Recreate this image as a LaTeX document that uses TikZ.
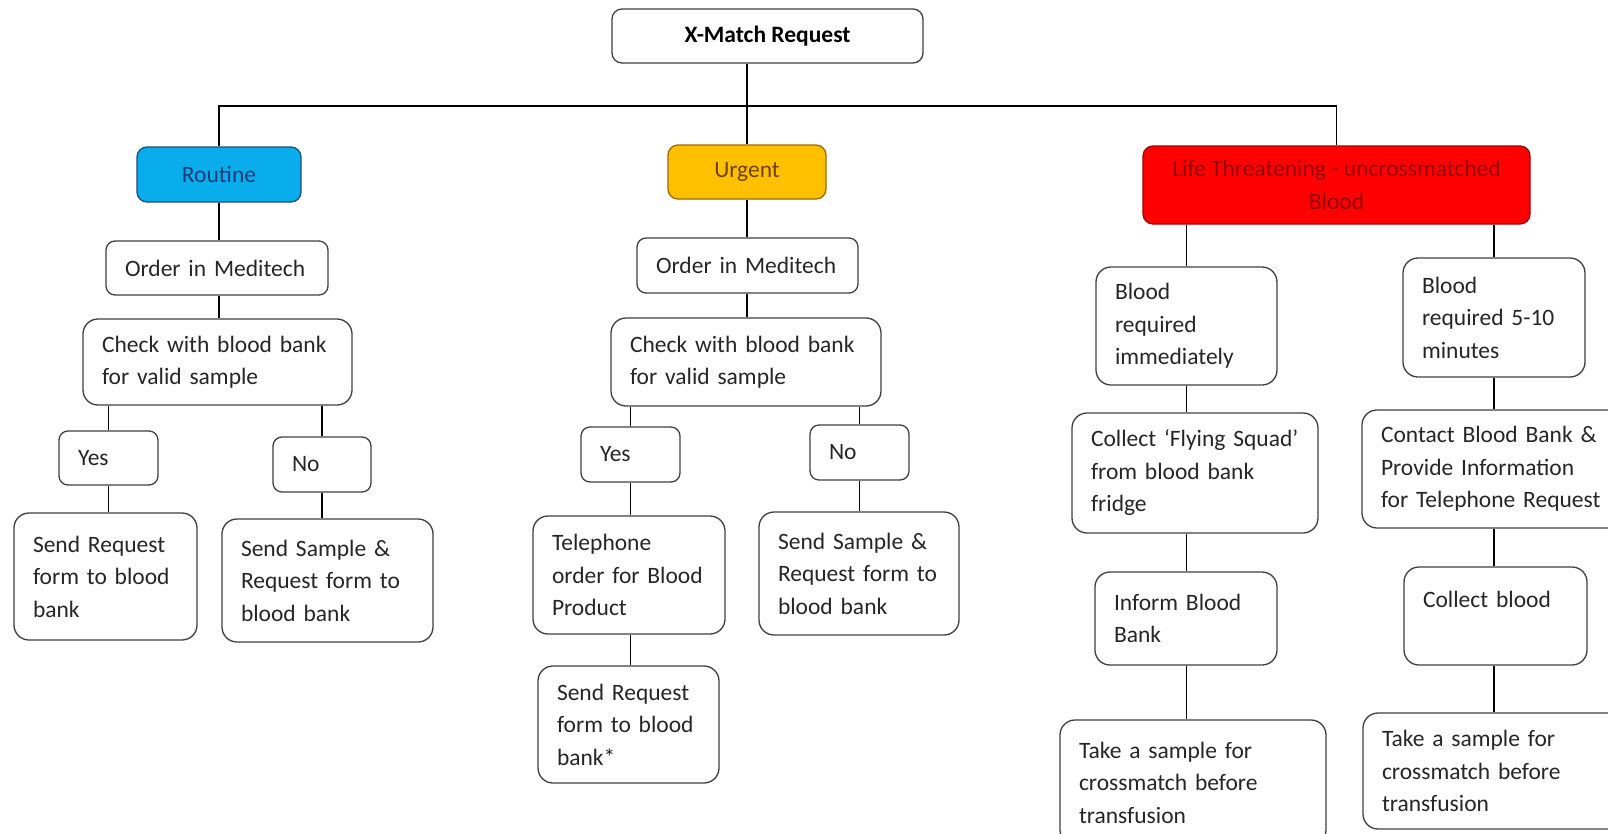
\documentclass[tikz,border=0pt]{standalone}
\usepackage{fontspec}
\setmainfont{Carlito}
\usetikzlibrary{calc}

\definecolor{routinefill}{HTML}{0AADEB}
\definecolor{routineline}{HTML}{1F4E79}
\definecolor{routinetext}{HTML}{1F3A7A}
\definecolor{urgentfill}{HTML}{FFC000}
\definecolor{urgentline}{HTML}{9C6A00}
\definecolor{urgenttext}{HTML}{6B4400}
\definecolor{lifefill}{HTML}{FF0000}
\definecolor{lifeline}{HTML}{A00000}
\definecolor{lifetext}{HTML}{960000}

\begin{document}
\begin{tikzpicture}[x=1pt,y=-1pt,line width=1.3pt,
  step node/.style={draw=black!75,rounded corners=15pt,align=left,inner xsep=19pt,inner ysep=0pt,
    font=\fontsize{23.5}{32.5}\selectfont,text=black!85},
  small node/.style={step node,rounded corners=9pt},
  level node/.style={draw,rounded corners=10pt,align=center,inner sep=0pt,
    font=\fontsize{23.5}{32.5}\selectfont}]

\useasboundingbox (0,0) rectangle (1608,833);
\fill[white] (0,0) rectangle (1608,833);
\clip (0,0) rectangle (1608,833);

% top and the three levels
\node[level node,draw=black!75,minimum width=311pt,minimum height=54pt,font=\fontsize{23.5}{32.5}\selectfont\bfseries] (xm) at (767.5,36) {X-Match Request};
\node[level node,fill=routinefill,draw=routineline,text=routinetext,minimum width=164pt,minimum height=55pt] (routine) at (219,174.5) {Routine};
\node[level node,fill=urgentfill,draw=urgentline,text=urgenttext,minimum width=158pt,minimum height=54pt] (urgent) at (747,172) {Urgent};
\node[level node,fill=lifefill,draw=lifeline,text=lifetext,minimum width=387pt,minimum height=78pt] (life) at (1336.5,185) {Life Threatening - uncrossmatched\\Blood};

% routine
\node[small node,text width=184pt,minimum height=54pt] (ordR) at (217,268) {Order in Meditech};
\node[step node,text width=231pt,minimum height=86pt] (chkR) at (217.5,362) {Check with blood bank\\for valid sample};
\node[small node,text width=61pt,minimum height=54pt] (yesR) at (108.5,458) {Yes};
\node[small node,text width=60pt,minimum height=55pt] (noR) at (322,464.5) {No};
\node[step node,text width=145pt,minimum height=127pt] (sendR) at (105.5,576.5) {Send Request\\form to blood\\bank};
\node[step node,text width=173pt,minimum height=123pt] (sampleR) at (327.5,580.5) {Send Sample \&\\Request form to\\blood bank};

% urgent
\node[small node,text width=183pt,minimum height=55pt] (ordU) at (747.5,265.5) {Order in Meditech};
\node[step node,text width=232pt,minimum height=88pt] (chkU) at (746,362) {Check with blood bank\\for valid sample};
\node[small node,text width=61pt,minimum height=55pt] (yesU) at (630.5,454.5) {Yes};
\node[small node,text width=61pt,minimum height=55pt] (noU) at (859.5,452.5) {No};
\node[step node,text width=154pt,minimum height=118pt] (phoneU) at (629,575) {Telephone\\order for Blood\\Product};
\node[step node,text width=143pt,minimum height=117pt] (sendU) at (628.5,724.5) {Send Request\\form to blood\\bank*};
\node[step node,text width=162pt,minimum height=123pt] (sampleU) at (859,573.5) {Send Sample \&\\Request form to\\blood bank};

% life threatening
\node[step node,text width=143pt,minimum height=118pt] (nowL) at (1186.5,326) {Blood\\required\\immediately};
\node[step node,text width=144pt,minimum height=119pt] (soonL) at (1494,317.5) {Blood\\required 5-10\\minutes};
\node[step node,text width=208pt,minimum height=120pt] (squadL) at (1195,473) {Collect ‘Flying Squad’\\from blood bank\\fridge};
\node[step node,text width=240pt,minimum height=118pt] (contactL) at (1501,469) {Contact Blood Bank \&\\Provide Information\\for Telephone Request};
\node[step node,text width=144pt,minimum height=93pt] (informL) at (1186,618.5) {Inform Blood\\Bank};
\node[step node,text width=145pt,minimum height=98pt] (collectL) at (1495.5,616) {Collect blood\\\mbox{}};
\node[step node,text width=228pt,minimum height=125pt] (takeL) at (1193,782.5) {Take a sample for\\crossmatch before\\transfusion};
\node[step node,text width=222pt,minimum height=116pt] (takeR) at (1493,771) {Take a sample for\\crossmatch before\\transfusion};

\coordinate (split) at (747,106);
\draw (xm.south -| split) -- (split);
\draw (routine) |- (split) -| (life);
\draw (urgent) -- (split);

\path[draw]
(routine) edge (routine |- ordR.north)
(routine |- ordR.south) edge (routine |- chkR.north)
(yesR |- chkR.south) edge (yesR)
(yesR) edge (yesR |- sendR.north)
(noR |- chkR.south) edge (noR)
(noR) edge (noR |- sampleR.north)
(urgent) edge (urgent |- ordU.north)
(urgent |- ordU.south) edge (urgent |- chkU.north)
(yesU |- chkU.south) edge (yesU)
(yesU) edge (yesU |- phoneU.north)
(yesU |- phoneU.south) edge (yesU |- sendU.north)
(noU |- chkU.south) edge (noU)
(noU) edge (noU |- sampleU.north)
(nowL |- life.south) edge (nowL)
(nowL) edge (nowL |- squadL.north)
(nowL |- squadL.south) edge (nowL |- informL.north)
(nowL |- informL.south) edge (nowL |- takeL.north)
(soonL |- life.south) edge (soonL)
(soonL) edge (soonL |- contactL.north)
(soonL |- contactL.south) edge (soonL |- collectL.north)
(soonL |- collectL.south) edge (soonL |- takeR.north);

\end{tikzpicture}
\end{document}
